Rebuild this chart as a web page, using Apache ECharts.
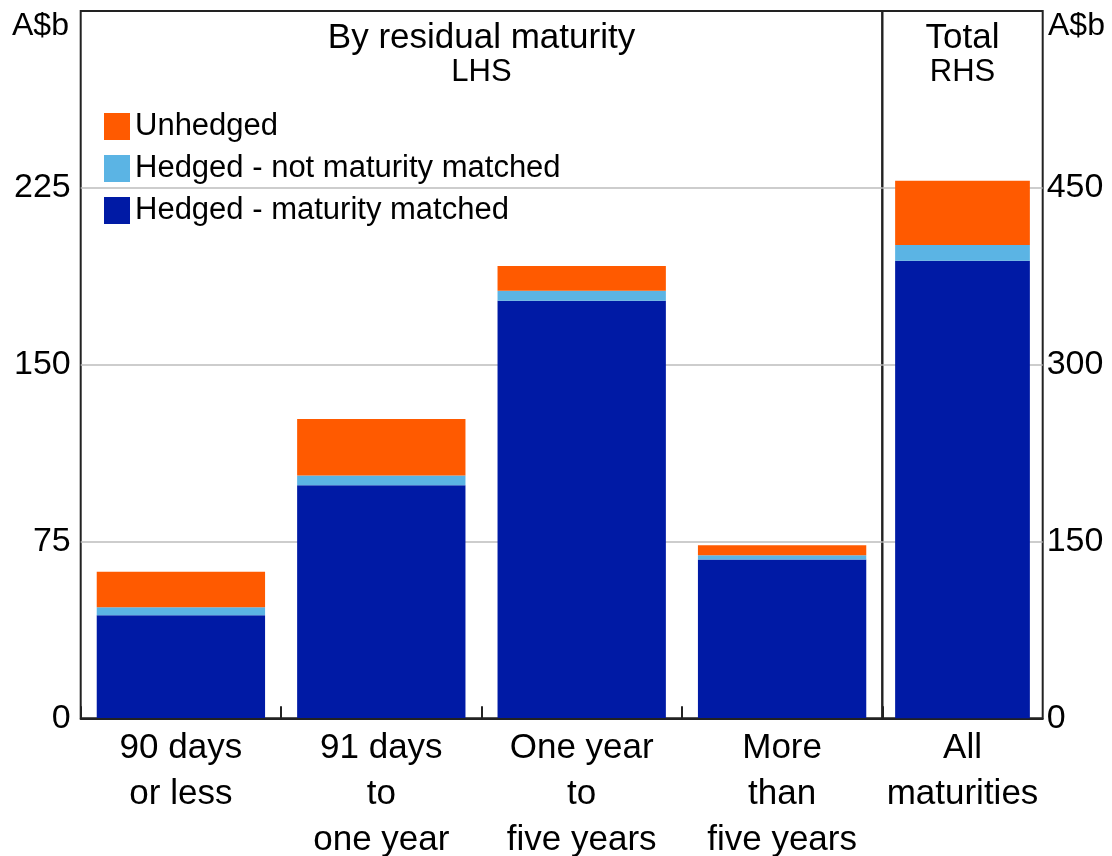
<!DOCTYPE html>
<html>
<head>
<meta charset="utf-8">
<script src="https://cdn.jsdelivr.net/npm/echarts@6/dist/echarts.min.js"></script>
<style>
  html, body { margin: 0; padding: 0; background: #fff; }
  #chart { width: 1112px; height: 856px; }
</style>
</head>
<body>
<div id="chart"></div>
<script>
// 按剩余期限（LHS）
const categories = ["90 days\nor less", "91 days\nto\none year", "One year\nto\nfive years", "More\nthan\nfive years"];
const matched = [43.7, 98.9, 177.1, 67.4];
const notMatched = [3.4, 4.1, 4.2, 1.8];
const unhedged = [15.1, 23.9, 10.5, 4.2];

// 合计（RHS）
const totalCategory = ["All\nmaturities"];
const totalMatched = [388.1];
const totalNotMatched = [13.3];
const totalUnhedged = [54.5];

const font = "Liberation Sans, Arial, sans-serif";
const colors = {
  unhedged: "#ff5a00",
  notMatched: "#5bb4e4",
  matched: "#001aa5",
};

const chart = echarts.init(document.getElementById("chart"));

const xAxisBase = {
  type: "category",
  axisLine: { show: true, lineStyle: { color: "#222", width: 2 } },
  axisLabel: {
    interval: 0,
    color: "#000",
    fontFamily: font,
    fontSize: 35,
    lineHeight: 46,
    margin: 7,
  },
};

const yAxisBase = {
  type: "value",
  axisLine: { show: false },
  axisTick: { show: false },
  splitLine: { showMinLine: false, showMaxLine: false, lineStyle: { color: "#bdbdbd", width: 1.5 } },
  axisLabel: {
    color: "#000",
    fontFamily: font,
    fontSize: 34,
    showMaxLabel: false,
  },
};

const gridBase = {
  top: 11,
  bottom: 137.7,
  show: true,
  borderColor: "#222",
  borderWidth: 2,
  containLabel: false,
  outerBoundsMode: "none",
};

chart.setOption({
  animation: false,
  textStyle: { fontFamily: font },
  grid: [
    Object.assign({}, gridBase, { left: 80.7, right: 229.7 }),
    Object.assign({}, gridBase, { left: 882.3, right: 69.3 }),
  ],
  legend: {
    orient: "vertical",
    left: 99,
    top: 106,
    itemWidth: 26,
    itemHeight: 27,
    itemGap: 11,
    icon: "rect",
    data: ["Unhedged", "Hedged - not maturity matched", "Hedged - maturity matched"],
    textStyle: { fontSize: 31, color: "#000", fontFamily: font },
    selectedMode: false,
  },
  xAxis: [
    Object.assign({}, xAxisBase, {
      gridIndex: 0,
      data: categories,
      axisTick: { show: true, inside: true, length: 12, interval: 0, alignWithLabel: false, lineStyle: { color: "#222", width: 2 } },
      z: 10,
    }),
    Object.assign({}, xAxisBase, {
      gridIndex: 1,
      data: totalCategory,
      axisTick: { show: false },
    }),
  ],
  yAxis: [
    Object.assign({}, yAxisBase, {
      gridIndex: 0,
      position: "left",
      min: 0,
      max: 300,
      interval: 75,
      axisLabel: Object.assign({}, yAxisBase.axisLabel, { margin: 10 }),
    }),
    Object.assign({}, yAxisBase, {
      gridIndex: 1,
      position: "right",
      min: 0,
      max: 600,
      interval: 150,
      axisLabel: Object.assign({}, yAxisBase.axisLabel, { margin: 4 }),
    }),
  ],
  series: [
    { name: "Hedged - maturity matched", type: "bar", stack: "lhs", xAxisIndex: 0, yAxisIndex: 0, data: matched, itemStyle: { color: colors.matched }, barCategoryGap: "16%" },
    { name: "Hedged - not maturity matched", type: "bar", stack: "lhs", xAxisIndex: 0, yAxisIndex: 0, data: notMatched, itemStyle: { color: colors.notMatched } },
    { name: "Unhedged", type: "bar", stack: "lhs", xAxisIndex: 0, yAxisIndex: 0, data: unhedged, itemStyle: { color: colors.unhedged } },
    { name: "Hedged - maturity matched", type: "bar", stack: "rhs", xAxisIndex: 1, yAxisIndex: 1, data: totalMatched, itemStyle: { color: colors.matched }, barCategoryGap: "16%" },
    { name: "Hedged - not maturity matched", type: "bar", stack: "rhs", xAxisIndex: 1, yAxisIndex: 1, data: totalNotMatched, itemStyle: { color: colors.notMatched } },
    { name: "Unhedged", type: "bar", stack: "rhs", xAxisIndex: 1, yAxisIndex: 1, data: totalUnhedged, itemStyle: { color: colors.unhedged } },
  ],
  graphic: [
    { type: "text", left: 12, top: 10, style: { text: "A$b", fontSize: 32, fontFamily: font, fill: "#000" } },
    { type: "text", left: 1048, top: 10, style: { text: "A$b", fontSize: 32, fontFamily: font, fill: "#000" } },
    { type: "text", x: 481.5, y: 38, style: { text: "By residual maturity", fontSize: 35, fontFamily: font, fill: "#000", align: "center", verticalAlign: "middle" } },
    { type: "text", x: 481.5, y: 72, style: { text: "LHS", fontSize: 31, fontFamily: font, fill: "#000", align: "center", verticalAlign: "middle" } },
    { type: "text", x: 962.5, y: 38, style: { text: "Total", fontSize: 35, fontFamily: font, fill: "#000", align: "center", verticalAlign: "middle" } },
    { type: "text", x: 962.5, y: 72, style: { text: "RHS", fontSize: 31, fontFamily: font, fill: "#000", align: "center", verticalAlign: "middle" } },
  ],
});
</script>
</body>
</html>
